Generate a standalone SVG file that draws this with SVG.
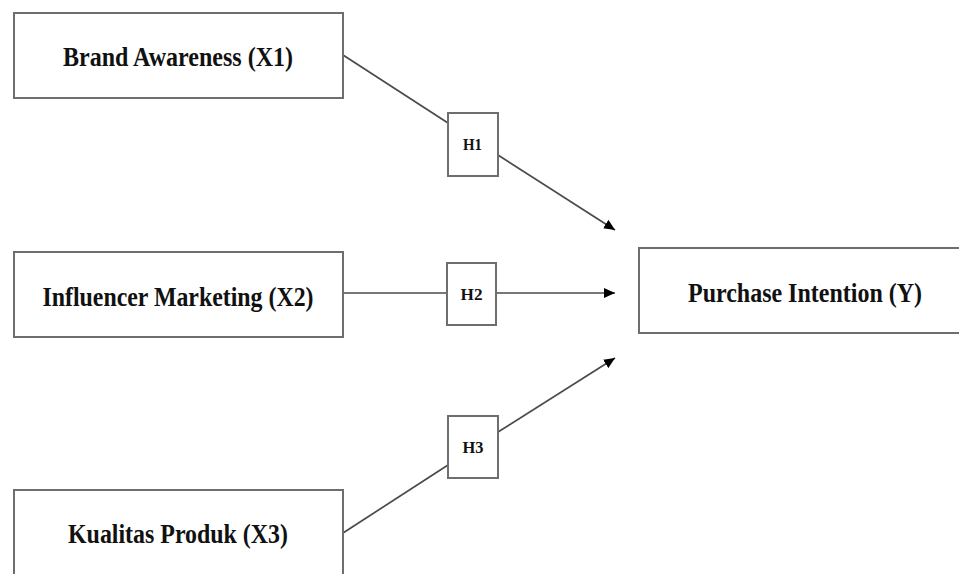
<svg xmlns="http://www.w3.org/2000/svg" width="959" height="574" viewBox="0 0 959 574">
<style>
.box{fill:#fff;stroke:#6e6e6e;stroke-width:2}
.hbox{fill:#fff;stroke:#6e6e6e;stroke-width:2}
.lbl{font-family:"Liberation Serif","Times New Roman",serif;font-weight:bold;fill:#111;text-anchor:middle}
.big{font-size:28px}
.sm{font-size:17px}
.ln{stroke:#4a4a4a;stroke-width:1.7;fill:none}
</style>
<defs>
<marker id="arr" markerUnits="userSpaceOnUse" markerWidth="12" markerHeight="10" refX="11" refY="5" orient="auto">
<path d="M0,0 L11,5 L0,10 Z" fill="#000"/>
</marker>
</defs>
<rect width="959" height="574" fill="#fff"/>
<g id="connectors">
<line class="ln" x1="343" y1="55" x2="448" y2="123"/>
<line class="ln" x1="498" y1="155" x2="615" y2="230" marker-end="url(#arr)"/>
<line class="ln" x1="343" y1="293" x2="447" y2="293"/>
<line class="ln" x1="496" y1="293" x2="615" y2="293" marker-end="url(#arr)"/>
<line class="ln" x1="343" y1="533" x2="448" y2="465"/>
<line class="ln" x1="498" y1="432" x2="615" y2="358" marker-end="url(#arr)"/>
</g>
<g id="x1">
<rect class="box" x="14" y="13" width="329" height="85"/>
<text class="lbl big" x="178" y="66" textLength="230" lengthAdjust="spacingAndGlyphs">Brand Awareness (X1)</text>
</g>
<g id="x2">
<rect class="box" x="14" y="252" width="329" height="85"/>
<text class="lbl big" x="178" y="306" textLength="271" lengthAdjust="spacingAndGlyphs">Influencer Marketing (X2)</text>
</g>
<g id="x3">
<rect class="box" x="14" y="490" width="329" height="90"/>
<text class="lbl big" x="178" y="543" textLength="220" lengthAdjust="spacingAndGlyphs">Kualitas Produk (X3)</text>
</g>
<g id="y">
<rect class="box" x="639" y="248" width="322" height="85"/>
<text class="lbl big" x="805" y="302" textLength="234" lengthAdjust="spacingAndGlyphs">Purchase Intention (Y)</text>
</g>
<g id="h1">
<rect class="hbox" x="448" y="113" width="50" height="63"/>
<text class="lbl sm" x="472.5" y="150" textLength="19" lengthAdjust="spacingAndGlyphs">H1</text>
</g>
<g id="h2">
<rect class="hbox" x="447" y="263" width="49" height="62"/>
<text class="lbl sm" x="471.5" y="300" textLength="22" lengthAdjust="spacingAndGlyphs">H2</text>
</g>
<g id="h3">
<rect class="hbox" x="448" y="416" width="50" height="62"/>
<text class="lbl sm" x="473" y="453" textLength="21" lengthAdjust="spacingAndGlyphs">H3</text>
</g>
</svg>
